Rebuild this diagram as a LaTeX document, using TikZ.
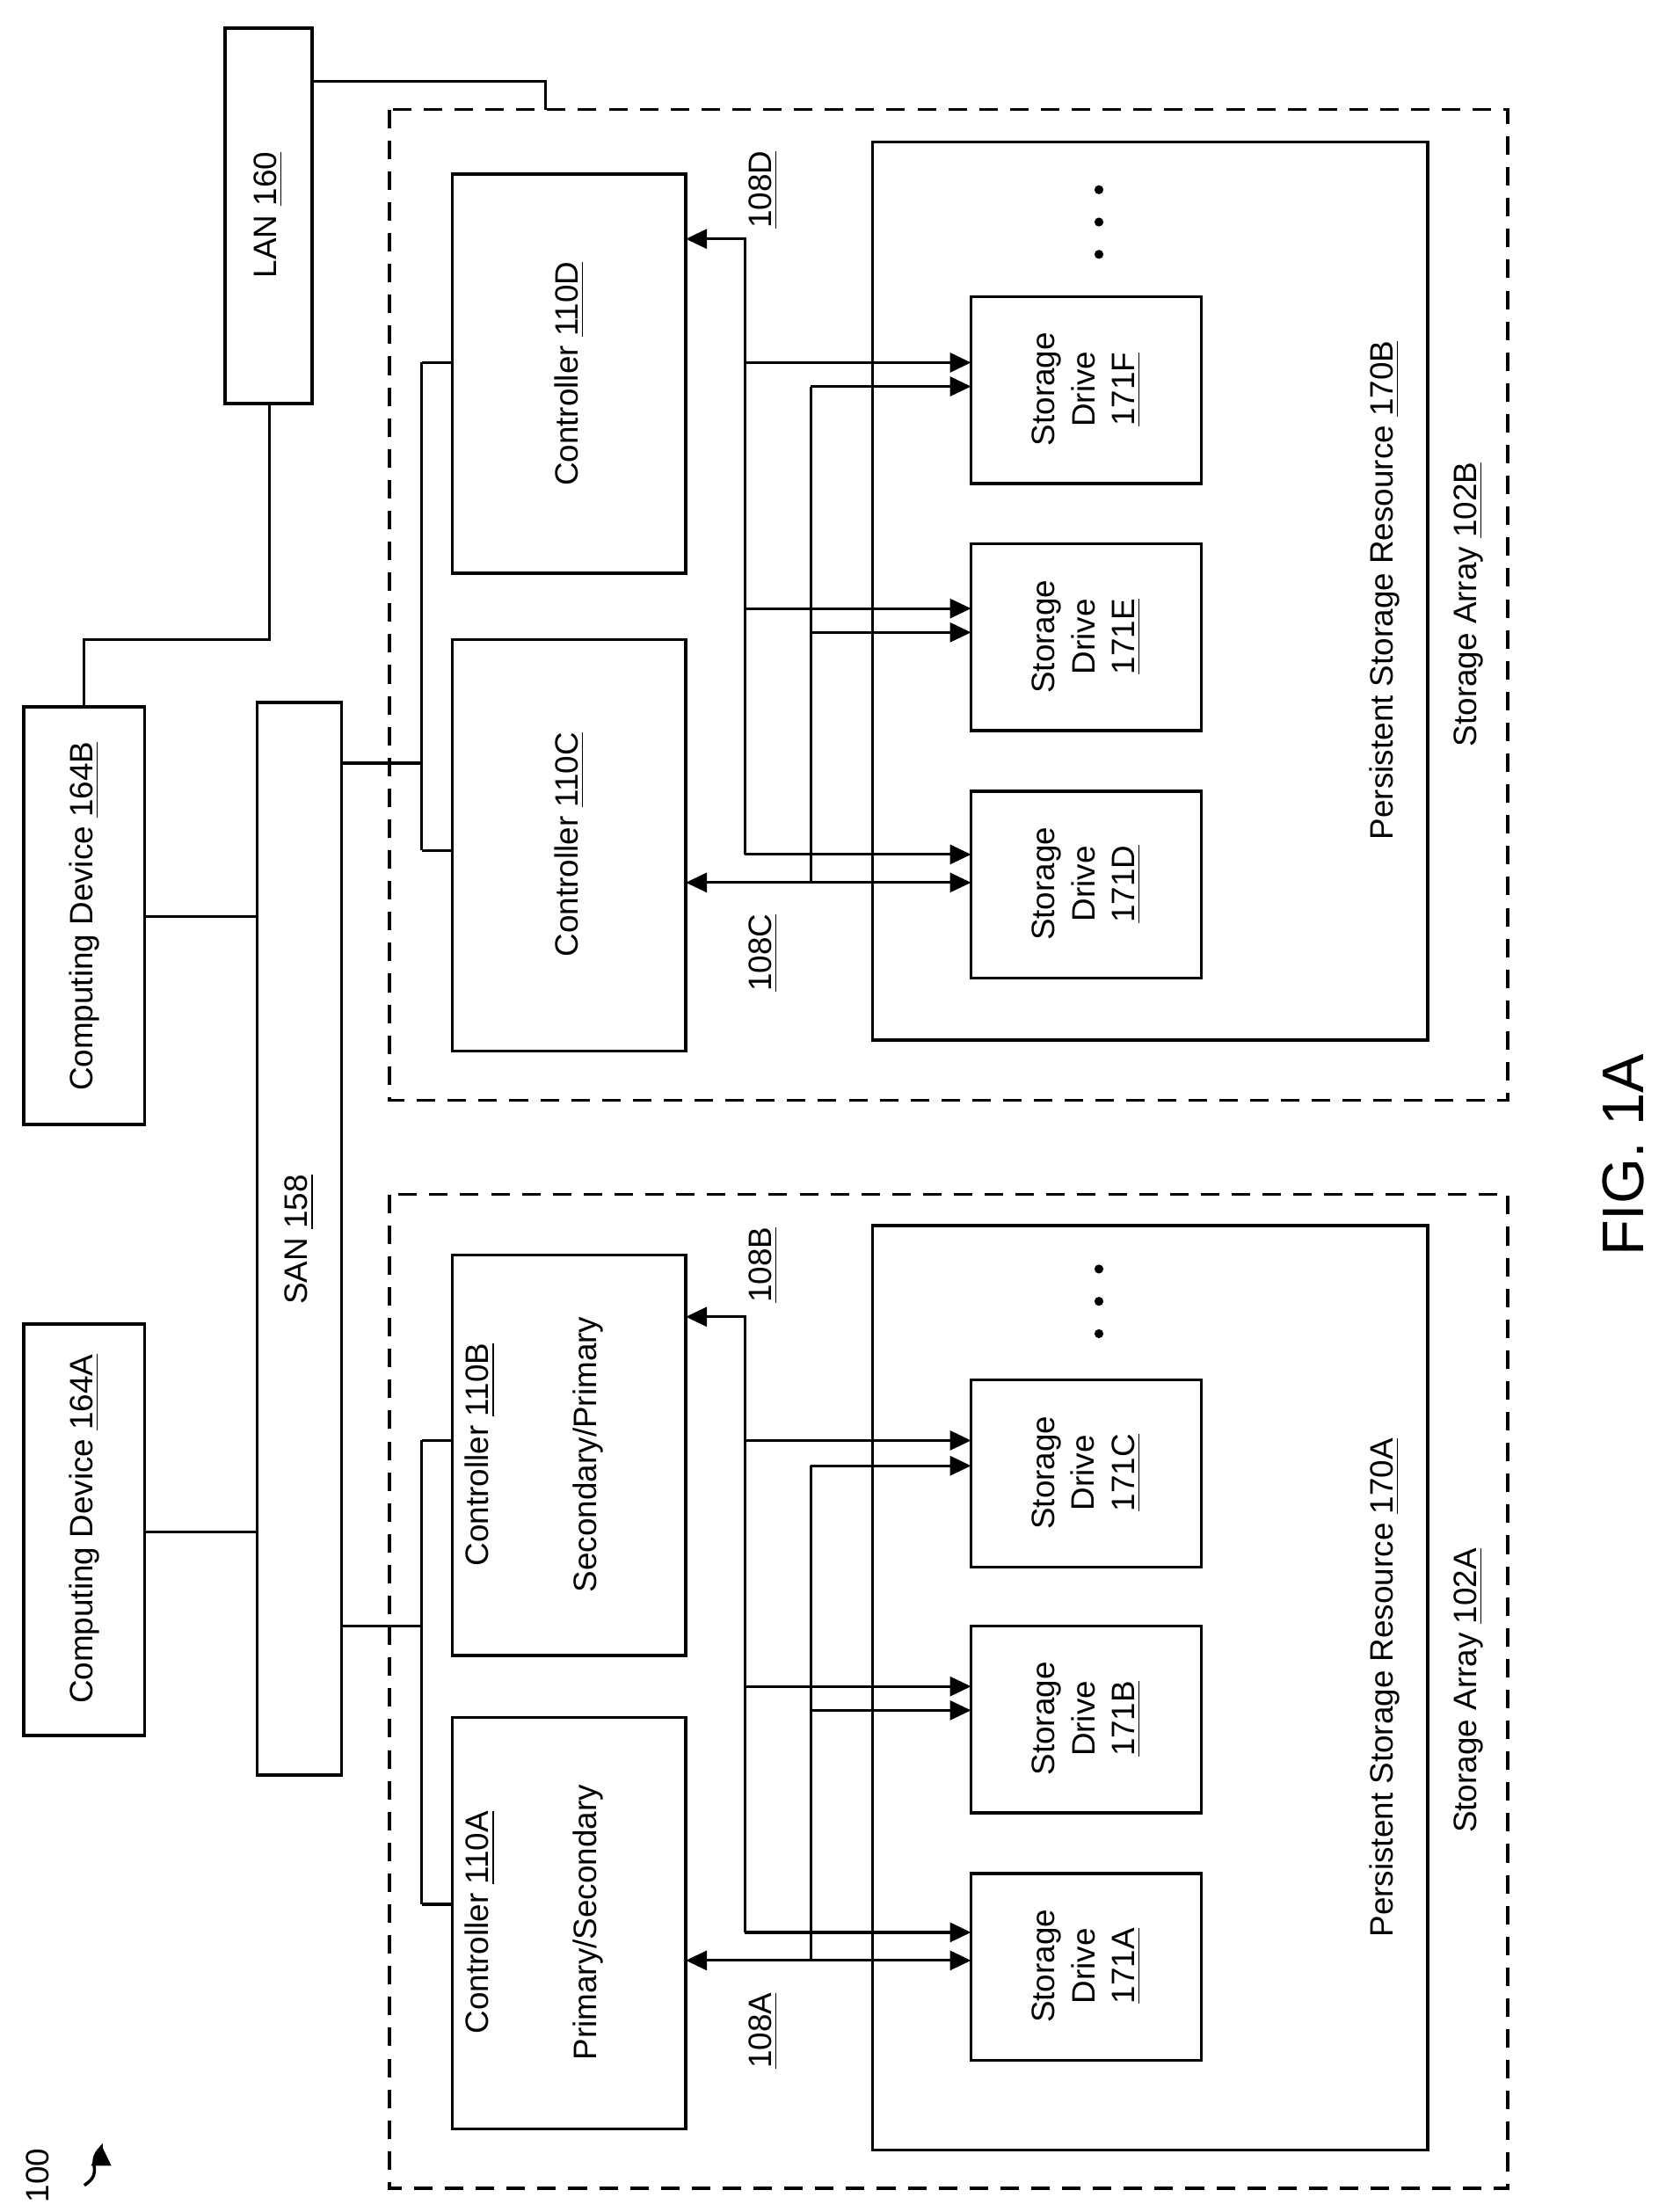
\documentclass[tikz,border=0pt]{standalone}
\usepackage{fontspec}
\setmainfont{Liberation Sans}
\usetikzlibrary{arrows.meta}
\begin{document}
\begin{tikzpicture}[x=0.016cm,y=-0.016cm,line width=0.9pt,
  box/.style={draw,line width=1pt},
  dbox/.style={draw,line width=1pt,dash pattern=on 6pt off 4pt},
  lbl/.style={rotate=90,font=\fontsize{10.5}{13}\selectfont,align=center,inner sep=0pt},
  arr/.style={-{Triangle[length=2.4mm,width=2.2mm]}},
  darr/.style={{Triangle[length=2.4mm,width=2.2mm]}-{Triangle[length=2.4mm,width=2.2mm]}}]
\useasboundingbox (0,0) rectangle (1190,1574);
% computing devices, LAN, SAN
\draw[box] (17,942) rectangle (103,1235); \node[lbl] (cA) at (60,1088) {Computing Device \underline{164A}};
\draw[box] (17,503) rectangle (103,800); \node[lbl] (cB) at (60,652) {Computing Device \underline{164B}};
\draw[box] (160,20) rectangle (222,287); \node[lbl] (lan) at (191,153) {LAN \underline{160}};
\draw[box] (183,500) rectangle (243,1263); \node[lbl] (san) at (213,882) {SAN \underline{158}};
\draw (103,1090)--(183,1090);
\draw (103,652)--(183,652);
\draw (60,503)--(60,455)--(192,455)--(192,287);
\draw (222,58)--(388,58)--(388,78);
% arrays
\draw[dbox] (277,78) rectangle (1073,783);
\draw[dbox] (277,850) rectangle (1073,1557);
\node[lbl] at (1045,430) {Storage Array \underline{102B}};
\node[lbl] at (1045,1203) {Storage Array \underline{102A}};
\draw[box] (621,101) rectangle (1016,740);
\draw[box] (621,872) rectangle (1016,1530);
\node[lbl] at (985,420) {Persistent Storage Resource \underline{170B}};
\node[lbl] at (985,1201) {Persistent Storage Resource \underline{170A}};
% controllers
\draw[box] (322,124) rectangle (488,408); \node[lbl] at (405,266) {Controller \underline{110D}};
\draw[box] (322,455) rectangle (488,748); \node[lbl] at (405,601) {Controller \underline{110C}};
\draw[box] (322,893) rectangle (488,1178); \node[lbl] at (380,1035) {Controller \underline{110B}\\[22pt]Secondary/Primary};
\draw[box] (322,1222) rectangle (488,1515); \node[lbl] at (380,1368) {Controller \underline{110A}\\[22pt]Primary/Secondary};
\draw (243,543)--(300,543); \draw (300,258)--(300,605); \draw (300,258)--(322,258); \draw (300,605)--(322,605);
\draw (243,1157)--(300,1157); \draw (300,1025)--(300,1355); \draw (300,1025)--(322,1025); \draw (300,1355)--(322,1355);
% drives
\foreach \y/\n in {211/171F,387/171E,563/171D,982/171C,1157/171B,1333/171A}{
  \draw[box] (691,\y) rectangle (855,\y+133);
  \node[lbl] at (773,\y+66) {Storage\\Drive\\\underline{\n}};}
\foreach \y in {135,158,181,903,926,949}{\fill (782,\y) circle (3.2);}
% buses top
\draw[arr] (530,608)--(530,170)--(488,170);
\foreach \y in {258,433,608}{\draw[arr] (530,\y)--(691,\y);}
\draw[darr] (488,628)--(691,628);
\draw (577,628)--(577,275);
\foreach \y in {275,450}{\draw[arr] (577,\y)--(691,\y);}
\node[lbl] at (543,135) {\underline{108D}};
\node[lbl] at (543,678) {\underline{108C}};
% buses bottom
\draw[arr] (530,1375)--(530,937)--(488,937);
\foreach \y in {1025,1200,1375}{\draw[arr] (530,\y)--(691,\y);}
\draw[darr] (488,1395)--(691,1395);
\draw (577,1395)--(577,1043);
\foreach \y in {1043,1217}{\draw[arr] (577,\y)--(691,\y);}
\node[lbl] at (543,900) {\underline{108B}};
\node[lbl] at (543,1445) {\underline{108A}};
% fig label
\node[rotate=90,font=\fontsize{19}{22}\selectfont] at (1155,822) {FIG. 1A};
\node[lbl] at (27,1548) {100};
\draw[arr,line width=1pt] (60,1555) .. controls (75,1545) and (60,1540) .. (72,1528)--(72,1526);
\end{tikzpicture}
\end{document}
